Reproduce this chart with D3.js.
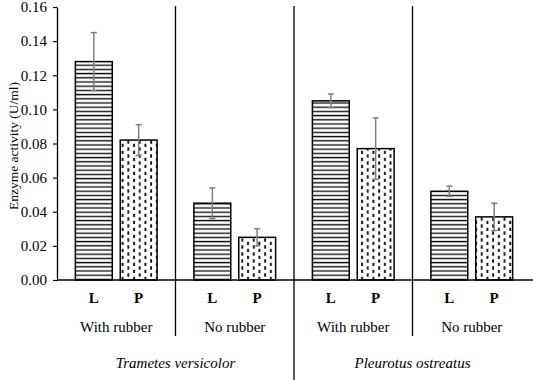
<!DOCTYPE html>
<html>
<head>
<meta charset="utf-8">
<script src="https://cdn.jsdelivr.net/npm/d3@7"></script>
<style>
  body { margin: 0; background: #fff; }
</style>
</head>
<body>
<div id="vis"></div>
<script>
// chart data
var treatments = ["With rubber", "No rubber", "With rubber", "No rubber"];
var species = ["Trametes versicolor", "Pleurotus ostreatus"];
var enzymes = ["L", "P"];
var valuesL = [0.128, 0.045, 0.105, 0.052];
var valuesP = [0.082, 0.025, 0.077, 0.037];
var errorsL = [0.017, 0.009, 0.004, 0.003];
var errorsP = [0.009, 0.005, 0.018, 0.008];
var yTicks = [0, 0.02, 0.04, 0.06, 0.08, 0.10, 0.12, 0.14, 0.16];

var width = 533, height = 380;
var serif = "'Liberation Serif', 'Times New Roman', Tinos, 'DejaVu Serif', serif";

var svg = d3.select('#vis').append('svg')
    .attr('width', width)
    .attr('height', height)
    .attr('font-family', serif);

// patterns: horizontal lines for L, staggered dashes for P
var defs = svg.append('defs');
var pL = defs.append('pattern')
    .attr('id', 'patL')
    .attr('patternUnits', 'userSpaceOnUse')
    .attr('width', 8).attr('height', 4.2);
pL.append('rect').attr('width', 8).attr('height', 4.2).attr('fill', '#fff');
pL.append('rect').attr('y', 1.5).attr('width', 8).attr('height', 1.4).attr('fill', '#111');

var pP = defs.append('pattern')
    .attr('id', 'patP')
    .attr('patternUnits', 'userSpaceOnUse')
    .attr('width', 11.4).attr('height', 7);
pP.append('rect').attr('width', 11.4).attr('height', 7).attr('fill', '#fff');
pP.append('rect').attr('x', 2).attr('y', 0.3).attr('width', 1.9).attr('height', 3.4).attr('fill', '#111');
pP.append('rect').attr('x', 7.7).attr('y', 3.8).attr('width', 1.9).attr('height', 3.4).attr('fill', '#111');

// scales
var groupIdx = d3.range(treatments.length);
var x0 = d3.scaleBand().domain(groupIdx).range([57, 531]);
var x1 = d3.scaleBand().domain(enzymes).range([0, x0.bandwidth()])
    .paddingInner(0.178).paddingOuter(0.41);
var y = d3.scaleLinear().domain([0, 0.16]).range([280, 7]);

// rows for bars
var rows = [];
groupIdx.forEach(function (i) {
  rows.push({ g: i, e: 'L', v: valuesL[i], err: errorsL[i] });
  rows.push({ g: i, e: 'P', v: valuesP[i], err: errorsP[i] });
});

// y axis
var yAxis = svg.append('g')
    .attr('transform', 'translate(57,0)')
    .call(d3.axisLeft(y).tickValues(yTicks).tickFormat(d3.format('.2f'))
      .tickSize(4).tickSizeOuter(0).tickPadding(6));
yAxis.attr('font-family', serif).attr('font-size', 15);
yAxis.select('.domain').attr('stroke', '#000').attr('stroke-width', 1.3);
yAxis.selectAll('.tick line').attr('stroke', '#000').attr('stroke-width', 1.2);
yAxis.selectAll('.tick text').attr('fill', '#000');

svg.append('text')
    .attr('transform', 'translate(18,146) rotate(-90)')
    .attr('text-anchor', 'middle')
    .attr('font-size', 13.5)
    .text('Enzyme activity (U/ml)');

// bars
svg.append('g').selectAll('rect')
    .data(rows)
    .enter().append('rect')
    .attr('x', function (d) { return x0(d.g) + x1(d.e); })
    .attr('y', function (d) { return y(d.v); })
    .attr('width', x1.bandwidth())
    .attr('height', function (d) { return y(0) - y(d.v); })
    .attr('fill', function (d) { return d.e === 'L' ? 'url(#patL)' : 'url(#patP)'; })
    .attr('stroke', '#000')
    .attr('stroke-width', 1.5);

// error bars
var eb = svg.append('g').selectAll('g')
    .data(rows)
    .enter().append('g')
    .attr('transform', function (d) { return 'translate(' + (x0(d.g) + x1(d.e) + x1.bandwidth() / 2) + ',0)'; });
eb.append('line')
    .attr('y1', function (d) { return y(d.v + d.err); })
    .attr('y2', function (d) { return y(d.v - d.err); })
    .attr('stroke', '#808080').attr('stroke-width', 1.5);
eb.append('line')
    .attr('x1', -3).attr('x2', 3)
    .attr('y1', function (d) { return y(d.v + d.err); })
    .attr('y2', function (d) { return y(d.v + d.err); })
    .attr('stroke', '#808080').attr('stroke-width', 1.5);
eb.append('line')
    .attr('x1', -3).attr('x2', 3)
    .attr('y1', function (d) { return y(d.v - d.err); })
    .attr('y2', function (d) { return y(d.v - d.err); })
    .attr('stroke', '#808080').attr('stroke-width', 1.5);

// x axis line
svg.append('line')
    .attr('x1', 57).attr('x2', width)
    .attr('y1', y(0)).attr('y2', y(0))
    .attr('stroke', '#000').attr('stroke-width', 1.3);

// separators between groups
svg.append('g').selectAll('line')
    .data(groupIdx.slice(1))
    .enter().append('line')
    .attr('x1', function (i) { return x0(i); })
    .attr('x2', function (i) { return x0(i); })
    .attr('y1', 6)
    .attr('y2', function (i) { return i === 2 ? height : 336; })
    .attr('stroke', '#000').attr('stroke-width', 1.3);

// L / P labels
svg.append('g').selectAll('text')
    .data(rows)
    .enter().append('text')
    .attr('x', function (d) { return x0(d.g) + x1(d.e) + x1.bandwidth() / 2; })
    .attr('y', 303)
    .attr('text-anchor', 'middle')
    .attr('font-size', 15)
    .attr('font-weight', 'bold')
    .text(function (d) { return d.e; });

// treatment labels
svg.append('g').selectAll('text')
    .data(groupIdx)
    .enter().append('text')
    .attr('x', function (i) { return x0(i) + x0.bandwidth() / 2; })
    .attr('y', 332)
    .attr('text-anchor', 'middle')
    .attr('font-size', 15)
    .text(function (i) { return treatments[i]; });

// species labels
svg.append('g').selectAll('text')
    .data(species)
    .enter().append('text')
    .attr('x', function (s, i) { return x0(i * 2) + x0.bandwidth(); })
    .attr('y', 368)
    .attr('text-anchor', 'middle')
    .attr('font-size', 15)
    .attr('font-style', 'italic')
    .text(function (s) { return s; });
</script>
</body>
</html>
